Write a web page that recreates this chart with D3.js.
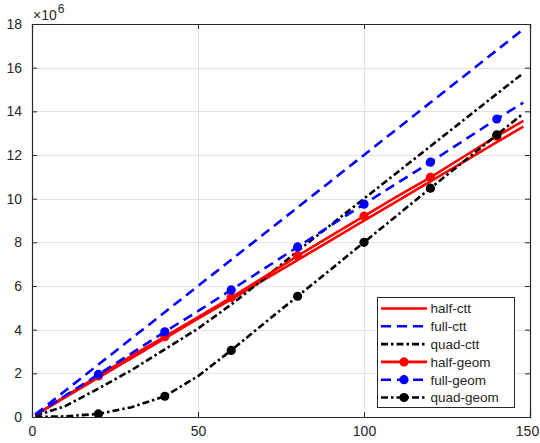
<!DOCTYPE html>
<html><head><meta charset="utf-8">
<script src="https://cdn.jsdelivr.net/npm/d3@7"></script>
<style>body{margin:0;background:#fff}svg{display:block}text{font-family:"Liberation Sans",Arial,sans-serif;fill:#262626}</style>
</head><body>
<script>
const xs       = [1, 10, 20, 30, 40, 50, 60, 70, 80, 90, 100, 110, 120, 130, 140, 148];
const halfCtt  = [0.09, 0.9, 1.8, 2.7, 3.6, 4.5, 5.39, 6.29, 7.19, 8.09, 8.99, 9.89, 10.79, 11.69, 12.59, 13.3];
const fullCtt  = [0.12, 1.2, 2.4, 3.6, 4.8, 6.0, 7.2, 8.4, 9.6, 10.8, 12.0, 13.2, 14.4, 15.6, 16.8, 17.76];
const quadCtt  = [0.05, 0.5, 1.3, 2.15, 3.1, 4.05, 5.15, 6.35, 7.6, 8.8, 10.0, 11.2, 12.4, 13.6, 14.8, 15.75];
const halfGeom = [0.09, 0.95, 1.88, 2.8, 3.68, 4.57, 5.47, 6.42, 7.38, 8.3, 9.2, 10.1, 10.98, 11.92, 12.86, 13.56];
const fullGeom = [0.1, 0.98, 1.95, 2.92, 3.9, 4.85, 5.82, 6.8, 7.79, 8.77, 9.75, 10.71, 11.67, 12.66, 13.65, 14.4];
const quadGeom = [0, 0.03, 0.14, 0.45, 0.95, 1.87, 3.05, 4.3, 5.53, 6.76, 8.0, 9.24, 10.48, 11.7, 12.92, 13.9];
const markerX  = [20, 40, 60, 80, 100, 120, 140];
const xTicks   = [0, 50, 100, 150];
const yTicks   = [0, 2, 4, 6, 8, 10, 12, 14, 16, 18];
const seriesNames = ["half-ctt", "full-ctt", "quad-ctt", "half-geom", "full-geom", "quad-geom"];

const W = 540, H = 443;
const L = 32, R = 530, T = 24, B = 417;
const x = d3.scaleLinear().domain([0, 150]).range([L, R]);
const y = d3.scaleLinear().domain([0, 18]).range([B, T]);

const styles = {
  solid:   {color: "#ff0000", dash: null},
  dashed:  {color: "#0000ff", dash: "10,6"},
  dashdot: {color: "#000000", dash: "7,3,2.5,3"}
};
const series = [
  {name: seriesNames[0], vals: halfCtt,  st: styles.solid,   marker: false},
  {name: seriesNames[1], vals: fullCtt,  st: styles.dashed,  marker: false},
  {name: seriesNames[2], vals: quadCtt,  st: styles.dashdot, marker: false},
  {name: seriesNames[3], vals: halfGeom, st: styles.solid,   marker: true},
  {name: seriesNames[4], vals: fullGeom, st: styles.dashed,  marker: true},
  {name: seriesNames[5], vals: quadGeom, st: styles.dashdot, marker: true}
];

const svg = d3.select("body").append("svg").attr("width", W).attr("height", H);
svg.append("rect").attr("width", W).attr("height", H).attr("fill", "#fff");

// grid
const g = svg.append("g");
g.selectAll(".gy").data(yTicks.slice(1, -1)).join("line")
  .attr("x1", L).attr("x2", R).attr("y1", d => Math.round(y(d)) + 0.5).attr("y2", d => Math.round(y(d)) + 0.5)
  .attr("stroke", "#e3e3e3").attr("stroke-width", 1);
g.selectAll(".gx").data(xTicks.slice(1, -1)).join("line")
  .attr("y1", T).attr("y2", B).attr("x1", d => Math.round(x(d)) + 0.5).attr("x2", d => Math.round(x(d)) + 0.5)
  .attr("stroke", "#e3e3e3").attr("stroke-width", 1);

// clip
svg.append("clipPath").attr("id", "clip").append("rect").attr("x", L).attr("y", T).attr("width", R - L).attr("height", B - T);

const line = d3.line().x((d, i) => x(xs[i])).y(d => y(d));
const plot = svg.append("g").attr("clip-path", "url(#clip)");
series.forEach(s => {
  plot.append("path").attr("d", line(s.vals)).attr("fill", "none")
    .attr("stroke", s.st.color).attr("stroke-width", 2.6)
    .attr("stroke-dasharray", s.st.dash).attr("stroke-linejoin", "round");
  if (s.marker) {
    plot.selectAll(null).data(markerX).join("circle")
      .attr("cx", d => x(d)).attr("cy", d => y(s.vals[xs.indexOf(d)]))
      .attr("r", 4.6).attr("fill", s.st.color);
  }
});

// axes with ticks inside on all sides
const axCol = "#262626";
const axB = svg.append("g").attr("transform", `translate(0,${B})`)
  .call(d3.axisBottom(x).tickValues(xTicks).tickSize(-5).tickPadding(9).tickFormat(d3.format("d")));
const axT = svg.append("g").attr("transform", `translate(0,${T})`)
  .call(d3.axisTop(x).tickValues(xTicks).tickSize(-5).tickFormat(""));
const axL = svg.append("g").attr("transform", `translate(${L},0)`)
  .call(d3.axisLeft(y).tickValues(yTicks).tickSize(-5).tickPadding(9).tickFormat(d3.format("d")));
const axR = svg.append("g").attr("transform", `translate(${R},0)`)
  .call(d3.axisRight(y).tickValues(yTicks).tickSize(-5).tickFormat(""));
[axB, axT, axL, axR].forEach(a => {
  a.select(".domain").attr("stroke", axCol).attr("stroke-width", 1.2);
  a.selectAll(".tick line").attr("stroke", axCol).attr("stroke-width", 1);
  a.selectAll("text").attr("font-size", 14).attr("fill", axCol)
    .style("font-family", '"Liberation Sans", Arial, sans-serif');
});
axB.selectAll("text").attr("dy", "0.71em");
axB.selectAll(".tick").filter(d => d === 150).select("text").attr("x", -3);
axL.selectAll("text").attr("dx", "-1");

// exponent label
const ex = svg.append("text").attr("x", 33).attr("y", 20).attr("font-size", 14);
ex.append("tspan").text("×10");
ex.append("tspan").attr("dx", 1).attr("dy", -7).attr("font-size", 12).text("6");

// legend
const lgX = 377, lgY = 297, lgW = 137, lgH = 110, rowH = 17.8;
const lg = svg.append("g");
lg.append("rect").attr("x", lgX + 0.5).attr("y", lgY + 0.5).attr("width", lgW).attr("height", lgH)
  .attr("fill", "#fff").attr("stroke", axCol).attr("stroke-width", 1);
series.forEach((s, i) => {
  const cy = lgY + 11.5 + i * rowH;
  lg.append("line").attr("x1", 381).attr("x2", 427).attr("y1", cy).attr("y2", cy)
    .attr("stroke", s.st.color).attr("stroke-width", 2.6).attr("stroke-dasharray", s.st.dash);
  if (s.marker) lg.append("circle").attr("cx", 404).attr("cy", cy).attr("r", 4.6).attr("fill", s.st.color);
  lg.append("text").attr("x", 430.5).attr("y", cy).attr("dy", "0.36em").attr("font-size", 13.5).text(s.name);
});
</script>
</body></html>
